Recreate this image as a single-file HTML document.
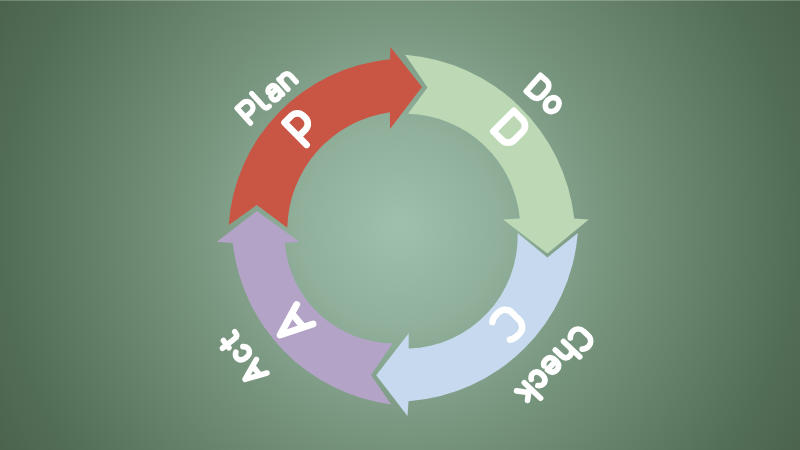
<!DOCTYPE html>
<html><head><meta charset="utf-8"><title>PDCA</title>
<style>
html,body{margin:0;padding:0;}
body{width:800px;height:450px;overflow:hidden;background:#6c8b75;}
svg{display:block;}
text{font-family:"Liberation Sans",sans-serif;font-weight:bold;fill:#fff;fill-opacity:0;stroke:none;}
.big{fill:none;stroke:#fff;stroke-linecap:round;stroke-linejoin:round;}
.sm{fill:none;stroke:#fff;stroke-width:5.3;stroke-linecap:round;stroke-linejoin:round;}
</style></head><body>
<svg width="800" height="450" viewBox="0 0 800 450">
<defs>
<radialGradient id="bg" gradientUnits="userSpaceOnUse" cx="400" cy="227" r="460">
<stop offset="0" stop-color="#9fc0ab"/>
<stop offset="0.22" stop-color="#90b09b"/>
<stop offset="0.48" stop-color="#75927b"/>
<stop offset="0.87" stop-color="#526d56"/>
<stop offset="1" stop-color="#4b634c"/>
</radialGradient>
<filter id="soft" x="-5%" y="-5%" width="110%" height="110%"><feGaussianBlur stdDeviation="0.6"/></filter>
</defs>
<rect width="800" height="450" fill="url(#bg)"/>
<rect width="800" height="1" fill="#fff" fill-opacity="0.22"/>
<g filter="url(#soft)">
<path d="M228.7,225.0 A178.3,178.3 0 0 1 390.0,59.3 L390.4,46.9 L422.0,87.0 L390.0,129.0 L389.9,112.2 A119.1,119.1 0 0 0 287.3,227.8 L256.8,205.0 Z" fill="#c95645"/>
<path d="M405.1,54.8 A184.4,184.4 0 0 1 574.2,218.5 L588.8,219.4 L547.4,253.6 L503.1,219.4 L519.8,218.6 A115.4,115.4 0 0 0 408.0,113.8 L427.5,87.5 Z" fill="#bcd8b5"/>
<path d="M577.8,233.0 A183.0,183.0 0 0 1 408.5,401.2 L407.5,416.0 L376.2,375.2 L408.7,333.3 L408.7,348.5 A112.2,112.2 0 0 0 517.6,233.0 L547.4,257.5 Z" fill="#c6d9ee"/>
<path d="M391.2,404.5 A183.1,183.1 0 0 1 232.8,243.1 L216.8,241.8 L256.8,211.0 L299.4,241.8 L284.8,243.0 A109.4,109.4 0 0 0 392.5,343.4 L371.0,375.0 Z" fill="#b3a3c7"/>

<g transform="translate(266.7,95) rotate(-42) scale(1) translate(-33.45,12.75)" class="sm"><path d="M0,-2.65 L0,-22.85 L7.70,-22.85 A5.8,5.8 0 0 1 13.50,-17.05 L13.50,-16.25 A5.8,5.8 0 0 1 7.70,-10.45 L0,-10.45" transform="translate(2.65,0)"/><path d="M0,-23.85 L0,-6.65 Q0,-2.65 3.80,-2.65 L4.60,-2.65" transform="translate(23.32,0)"/><path d="M1.2,-13.75 Q3.00,-16.55 5.80,-16.55 Q10.80,-16.55 10.80,-11.15 L10.80,-2.65 M10.80,-10.30 L5.00,-10.30 Q0,-10.30 0,-6.48 Q0,-2.45 4.60,-2.45 Q8.40,-2.45 10.80,-6.25" transform="translate(35.08,0)"/><path d="M0,-16.35 L0,-2.65 M0,-10.35 Q0,-16.35 5.60,-16.35 Q11.20,-16.35 11.20,-10.55 L11.20,-2.65" transform="translate(53.05,0)"/></g>
<g transform="translate(546.3,94.8) rotate(41.5) scale(1.06) translate(-18.96,12.75)" class="sm"><path d="M0,-22.85 L0,-2.65 L7.60,-2.65 A6.6,6.6 0 0 0 14.20,-9.25 L14.20,-16.25 A6.6,6.6 0 0 0 7.60,-22.85 Z" transform="translate(2.65,0)"/><path d="M0,-9.50 A6.00,7.10 0 1 1 12.00,-9.50 A6.00,7.10 0 1 1 0,-9.50 Z" transform="translate(23.27,0)"/></g>
<g transform="translate(555.1,365.8) rotate(133.5) scale(1.06) translate(-44.81,12.75)" class="sm"><path d="M13.20,-20.45 Q10.80,-23.05 7.00,-23.05 A7,7 0 0 0 0,-15.85 L0,-9.65 A7,7 0 0 0 7.00,-2.45 Q10.80,-2.45 13.20,-5.05" transform="translate(2.65,0)"/><path d="M0,-23.85 L0,-2.65 M0,-10.35 Q0,-16.35 5.60,-16.35 Q11.20,-16.35 11.20,-10.55 L11.20,-2.65" transform="translate(22.68,0)"/><path d="M0.4,-10.10 L11.80,-10.10 Q11.80,-16.55 5.90,-16.55 Q0,-16.55 0,-9.50 Q0,-2.45 6.40,-2.45 Q9.80,-2.45 11.40,-5.05" transform="translate(40.71,0)"/><path d="M10.20,-13.75 Q8.20,-16.55 5.70,-16.55 Q0,-16.55 0,-9.50 Q0,-2.45 5.70,-2.45 Q8.20,-2.45 10.20,-5.25" transform="translate(59.34,0)"/><path d="M0,-23.85 L0,-2.65 M10.00,-16.35 L0.6,-9.65 M4.20,-11.70 L10.60,-2.65" transform="translate(76.37,0)"/></g>
<g transform="translate(242.5,358.9) rotate(-128) scale(1.05) translate(-27.62,12.75)" class="sm"><path d="M0,-2.65 L8.20,-22.85 L16.40,-2.65 M2.68,-9.25 L13.72,-9.25" transform="translate(2.65,0)"/><path d="M10.20,-13.75 Q8.20,-16.55 5.70,-16.55 Q0,-16.55 0,-9.50 Q0,-2.45 5.70,-2.45 Q8.20,-2.45 10.20,-5.25" transform="translate(26.42,0)"/><path d="M3.40,-21.55 L3.40,-6.65 Q3.40,-2.65 7.20,-2.65 L8.60,-2.65 M0,-16.35 L8.60,-16.35" transform="translate(43.99,0)"/></g>
<text transform="translate(266.7,95) rotate(-42)" font-size="33" text-anchor="middle" dominant-baseline="central">Plan</text>
<text transform="translate(546.3,94.8) rotate(41.5)" font-size="33" text-anchor="middle" dominant-baseline="central">Do</text>
<text transform="translate(555.1,365.8) rotate(133.5)" font-size="33" text-anchor="middle" dominant-baseline="central">Check</text>
<text transform="translate(242.5,358.9) rotate(-128)" font-size="33" text-anchor="middle" dominant-baseline="central">Act</text>
<text transform="translate(295.6,128.1) rotate(-45)" font-size="48" text-anchor="middle" dominant-baseline="central">P</text>
<text transform="translate(509,125.7) rotate(45)" font-size="48" text-anchor="middle" dominant-baseline="central">D</text>
<text transform="translate(506.5,325.5) rotate(135)" font-size="48" text-anchor="middle" dominant-baseline="central">C</text>
<text transform="translate(296.7,319.7) rotate(-130)" font-size="48" text-anchor="middle" dominant-baseline="central">A</text>
<path d="M3.2,34.4 L3.2,3.2 L13.1,3.2 A8.2,8.2 0 0 1 21.3,11.4 L21.3,14.6 A8.2,8.2 0 0 1 13.1,22.8 L3.2,22.8" transform="translate(280,122.7) rotate(-45)" class="big" stroke-width="6.7"/>
<path d="M3.3,3.3 L3.3,32.2 L15.5,32.2 A8.7,8.7 0 0 0 24.2,23.5 L24.2,12 A8.7,8.7 0 0 0 15.5,3.3 Z" transform="translate(513.8,106.3) rotate(45)" class="big" stroke-width="6.8"/>
<path d="M7.6,-12.4 Q4.5,-15.2 -1.5,-15 L-3,-15 A10,10 0 0 0 -13,-5 L-13,5 A10,10 0 0 0 -3,15 L-1.5,15 Q4.5,15.2 7.6,12.4" transform="translate(506.5,325.5) rotate(135)" class="big" stroke-width="6.5"/>
<path d="M-12.7,32.5 L0,0 L12.7,32.5 M-9,23 L9,23" transform="translate(280,335.1) rotate(-130)" class="big" stroke-width="6.8"/>

</g>
</svg>
</body></html>
